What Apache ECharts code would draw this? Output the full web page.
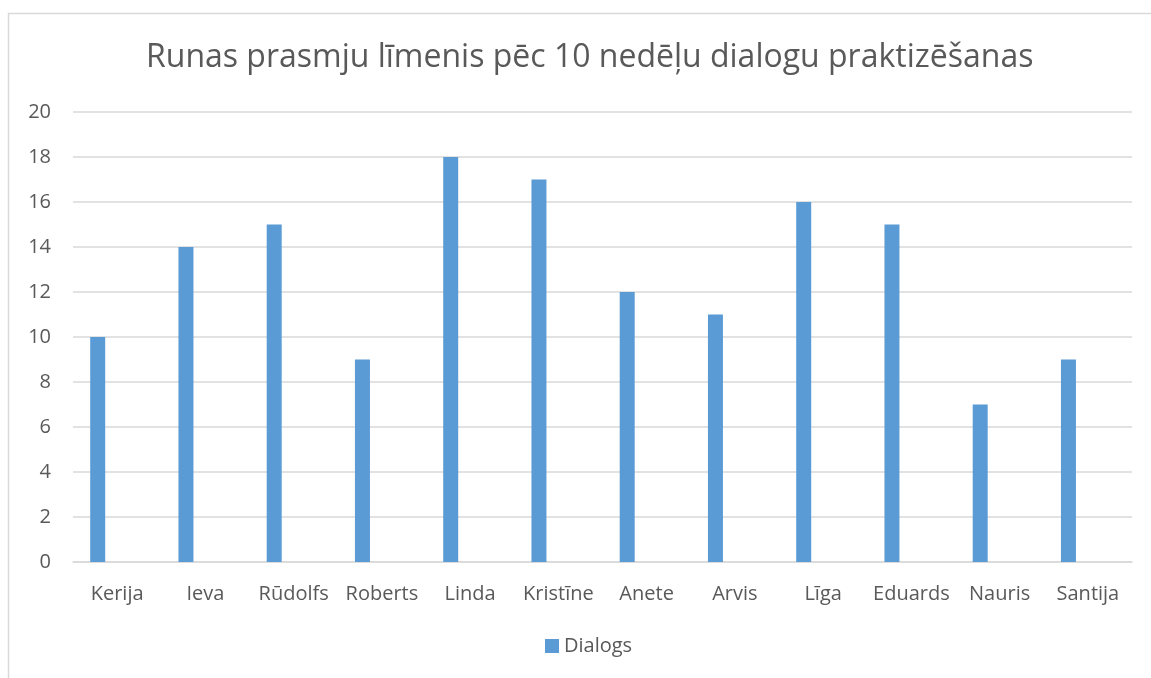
<!DOCTYPE html>
<html>
<head>
<meta charset="utf-8">
<script src="https://cdn.jsdelivr.net/npm/echarts@6/dist/echarts.min.js"></script>
<style>
  html, body { margin: 0; padding: 0; background: #fff; }
  #chart { width: 1151px; height: 678px; }
</style>
</head>
<body>
<div id="chart"></div>
<script>
const categories = ["Kerija", "Ieva", "Rūdolfs", "Roberts", "Linda", "Kristīne", "Anete", "Arvis", "Līga", "Eduards", "Nauris", "Santija"];
const dialogs = [10, 14, 15, 9, 18, 17, 12, 11, 16, 15, 7, 9];
const yTicks = { min: 0, max: 20, interval: 2 };

const FONT = "'Open Sans', Lato, sans-serif";
const TEXT = "#595959";
const GRID = "#d9d9d9";

const chart = echarts.init(document.getElementById("chart"), null, { renderer: "canvas" });

chart.setOption({
  backgroundColor: "#fff",
  animation: false,
  textStyle: { fontFamily: FONT, color: TEXT },
  graphic: [{
    type: "rect",
    shape: { x: 8.5, y: 13.5, width: 1200, height: 700 },
    style: { fill: "none", stroke: GRID, lineWidth: 1.5 },
    silent: true,
  }],
  title: {
    text: "Runas prasmju līmenis pēc 10 nedēļu dialogu praktizēšanas",
    left: 141,
    top: 37,
    textStyle: { fontFamily: FONT, fontSize: 32, fontWeight: "normal", color: TEXT },
  },
  legend: {
    data: ["Dialogs"],
    bottom: 17,
    left: 540,
    itemWidth: 14,
    itemHeight: 14,
    itemGap: 6,
    icon: "rect",
    textStyle: { fontFamily: FONT, fontSize: 20, color: TEXT },
  },
  grid: { left: 73, right: 19, top: 112, bottom: 116 },
  xAxis: {
    type: "category",
    data: categories,
    axisLine: { lineStyle: { color: GRID, width: 1.5 } },
    axisTick: { show: false },
    axisLabel: { fontFamily: FONT, fontSize: 20, color: TEXT, margin: 22, interval: 0 },
  },
  yAxis: {
    type: "value",
    min: yTicks.min,
    max: yTicks.max,
    interval: yTicks.interval,
    axisLine: { show: false },
    axisTick: { show: false },
    axisLabel: { fontFamily: FONT, fontSize: 20, color: TEXT, margin: 22 },
    splitLine: { lineStyle: { color: GRID, width: 1.5 } },
  },
  series: [
    {
      name: "Dialogs",
      type: "bar",
      data: dialogs,
      barWidth: 15,
      barGap: "159%",
      itemStyle: { color: "#5b9bd5" },
    },
    {
      name: "_empty",
      type: "bar",
      data: [],
      barWidth: 15,
    },
  ],
});
</script>
</body>
</html>
